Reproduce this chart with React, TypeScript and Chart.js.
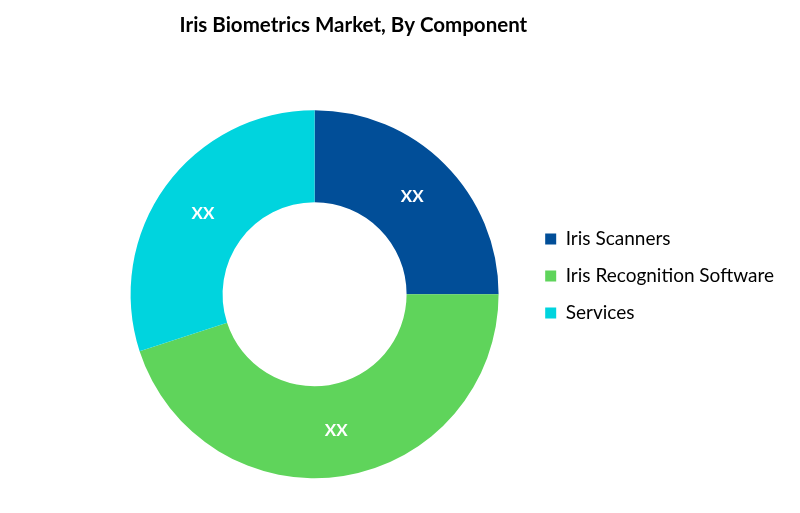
import { useEffect, useRef } from 'react'
import { Chart, registerables } from 'chart.js'
import type { Plugin } from 'chart.js'

Chart.register(...registerables)

const chartTitle = 'Iris Biometrics Market, By Component'
const components = ['Iris Scanners', 'Iris Recognition Software', 'Services']
const shares = [25, 45, 30]
const sliceLabels = ['XX', 'XX', 'XX']
const colors = ['#014e98', '#5fd45b', '#00d4de']

// white "XX" in the middle of each ring segment
const sliceText: Plugin<'doughnut'> = {
  id: 'sliceText',
  afterDatasetsDraw(chart) {
    const { ctx } = chart
    const meta = chart.getDatasetMeta(0)
    ctx.save()
    ctx.font = 'bold 17px Lato'
    ctx.fillStyle = '#ffffff'
    ctx.textAlign = 'center'
    ctx.textBaseline = 'middle'
    meta.data.forEach((arc, i) => {
      const { x, y } = arc.tooltipPosition(true)
      ctx.fillText(sliceLabels[i], x, y)
    })
    ctx.restore()
  },
}

export default function App() {
  const ref = useRef<HTMLCanvasElement>(null)

  useEffect(() => {
    if (!ref.current) return
    const chart = new Chart(ref.current, {
      type: 'doughnut',
      data: {
        labels: components,
        datasets: [{ data: shares, backgroundColor: colors, borderWidth: 0 }],
      },
      options: {
        responsive: true,
        maintainAspectRatio: false,
        animation: false,
        cutout: '50%',
        radius: 184,
        layout: { padding: { left: 102, right: 16, top: 0, bottom: 0 } },
        plugins: {
          title: {
            display: true,
            text: chartTitle,
            align: 'end',
            fullSize: false,
            color: '#000',
            font: { family: 'Lato', size: 20.5, weight: 'bold', lineHeight: 1.1 },
            padding: { top: 14, bottom: 0 },
          },
          legend: {
            position: 'right',
            labels: {
              boxWidth: 11,
              boxHeight: 11,
              padding: 18,
              color: '#000',
              font: { family: 'Lato', size: 19 },
            },
          },
          tooltip: { enabled: false },
        },
      },
      plugins: [sliceText],
    })
    return () => chart.destroy()
  }, [])

  return (
    <div style={{ position: 'fixed', left: 0, top: 0, width: 800, height: 552, background: '#fff' }}>
      <canvas ref={ref} />
    </div>
  )
}
